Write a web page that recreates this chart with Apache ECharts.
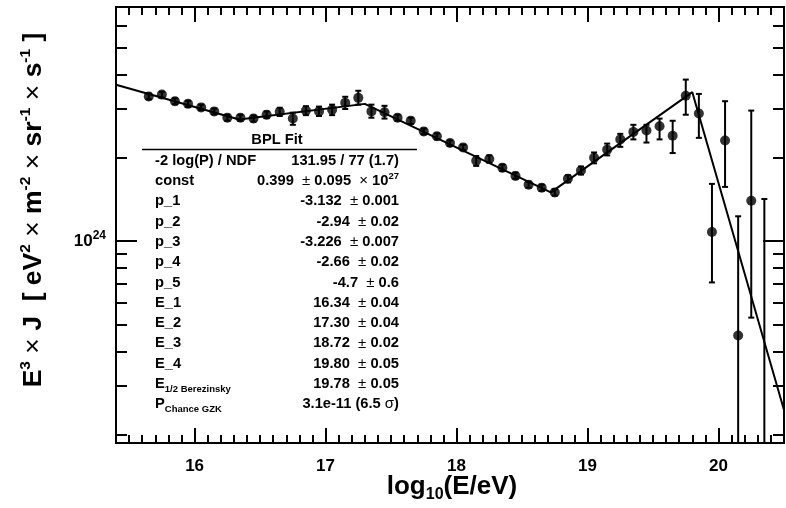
<!DOCTYPE html>
<html>
<head>
<meta charset="utf-8">
<script src="https://cdn.jsdelivr.net/npm/echarts@6/dist/echarts.min.js"></script>
<style>
  html, body { margin: 0; padding: 0; background: #fff; }
  #chart { width: 786px; height: 508px; }
</style>
</head>
<body>
<div id="chart"></div>
<script>
// log10(E/eV) bin centres
const energies = [
  15.65, 15.75, 15.85, 15.95, 16.05, 16.15, 16.25, 16.35, 16.45, 16.55,
  16.65, 16.75, 16.85, 16.95, 17.05, 17.15, 17.25, 17.35, 17.45, 17.55,
  17.65, 17.75, 17.85, 17.95, 18.05, 18.15, 18.25, 18.35, 18.45, 18.55,
  18.65, 18.75, 18.85, 18.95, 19.05, 19.15, 19.25, 19.35, 19.45, 19.55,
  19.65, 19.75, 19.85, 19.95, 20.05, 20.15, 20.25, 20.35
];
// E^3 x J, in units of 1e24
const flux = [
  3.33, 3.38, 3.20, 3.13, 3.04, 2.94, 2.79, 2.79, 2.77, 2.86,
  2.93, 2.77, 2.96, 2.94, 2.98, 3.16, 3.29, 2.94, 2.92, 2.79,
  2.72, 2.49, 2.39, 2.26, 2.18, 1.95, 1.98, 1.84, 1.72, 1.60,
  1.56, 1.50, 1.68, 1.80, 2.00, 2.14, 2.33, 2.48, 2.51, 2.60,
  2.40, 3.35, 2.89, 1.08, 2.31, 0.457, 1.40, 0.15
];
const errLow = [
  3.25, 3.30, 3.12, 3.05, 2.97, 2.87, 2.72, 2.72, 2.70, 2.78,
  2.83, 2.63, 2.85, 2.83, 2.85, 3.00, 3.11, 2.79, 2.77, 2.72,
  2.65, 2.43, 2.33, 2.21, 2.13, 1.87, 1.92, 1.79, 1.68, 1.56,
  1.52, 1.46, 1.63, 1.74, 1.91, 2.04, 2.19, 2.33, 2.27, 2.33,
  2.08, 2.86, 2.36, 0.71, 1.57, 0.01, 0.53, 0.01
];
const errHigh = [
  3.41, 3.46, 3.28, 3.21, 3.11, 3.01, 2.86, 2.86, 2.84, 2.94,
  3.03, 2.91, 3.07, 3.06, 3.11, 3.32, 3.49, 3.11, 3.08, 2.86,
  2.79, 2.55, 2.45, 2.31, 2.23, 2.03, 2.04, 1.89, 1.77, 1.64,
  1.60, 1.54, 1.73, 1.86, 2.09, 2.25, 2.44, 2.63, 2.63, 2.77,
  2.72, 3.83, 3.40, 1.61, 3.20, 1.23, 2.96, 1.42
];
// broken power law fit, break points (log10 E, E^3 J / 1e24)
const fitX = [15.4, 16.34, 17.30, 18.72, 19.80, 20.5];
const fitY = [3.67, 2.75, 3.13, 1.50, 3.45, 0.246];

const xMajorTicks = [16, 17, 18, 19, 20];
const yMajorTicks = [1e24];
const yMinorTicks = [2e23, 3e23, 4e23, 5e23, 6e23, 7e23, 8e23, 9e23, 2e24, 3e24, 4e24, 5e24, 6e24, 7e24];

const statNames = [
  '-2 log(P) / NDF', 'const', 'p_1', 'p_2', 'p_3', 'p_4', 'p_5',
  'E_1', 'E_2', 'E_3', 'E_4',
  '{m|E}{sub|1/2 Berezinsky}', '{m|P}{sub|Chance GZK}'
];
const statValues = [
  '131.95 / 77 (1.7)',
  '0.399  {s|±} 0.095  {s|×} 10{sup|27}',
  '-3.132  {s|±} 0.001',
  '-2.94  {s|±} 0.02',
  '-3.226  {s|±} 0.007',
  '-2.66  {s|±} 0.02',
  '-4.7  {s|±} 0.6',
  '16.34  {s|±} 0.04',
  '17.30  {s|±} 0.04',
  '18.72  {s|±} 0.02',
  '19.80  {s|±} 0.05',
  '19.78  {s|±} 0.05',
  '3.1e-11 (6.5 {s|σ})'
];

const SCALE = 1e24;
const X_MIN = 15.4, X_MAX = 20.5;
const Y_MIN = 1.87e23, Y_MAX = 7.0e24;
const FONT = '"Liberation Sans", Arial, Helvetica, sans-serif';

// minor ticks every 0.1 in log10 E
const xMinorTicks = [];
for (let i = 0; i <= 51; i++) xMinorTicks.push(Math.round((X_MIN + i * 0.1) * 10) / 10);

const chart = echarts.init(document.getElementById('chart'));

const tickLine = { color: '#000', width: 2 };
function xAxisDef(pos, ticks, len, labels) {
  return {
    type: 'value', position: pos, min: X_MIN, max: X_MAX,
    splitLine: { show: false }, axisLine: { show: false },
    axisTick: { inside: true, length: len, customValues: ticks, lineStyle: tickLine },
    axisLabel: labels ? {
      customValues: ticks, color: '#000', fontSize: 17, fontWeight: 'bold',
      fontFamily: FONT, margin: 15
    } : { show: false }
  };
}
function yAxisDef(pos, ticks, len, labels) {
  return {
    type: 'log', logBase: 10, position: pos, min: Y_MIN, max: Y_MAX,
    splitLine: { show: false }, axisLine: { show: false }, minorTick: { show: false },
    axisTick: { inside: true, length: len, customValues: ticks, lineStyle: tickLine },
    axisLabel: labels ? {
      customValues: ticks, margin: 10,
      formatter: function (v) {
        return '{b|10}{e|' + Math.round(Math.log10(v)) + '}';
      },
      rich: {
        b: { fontSize: 17, fontWeight: 'bold', fontFamily: FONT, color: '#000', lineHeight: 24 },
        e: { fontSize: 12, fontWeight: 'bold', fontFamily: FONT, color: '#000', verticalAlign: 'top', lineHeight: 13 }
      }
    } : { show: false }
  };
}

const rowY0 = 160.7, rowStep = 20.3;
const graphics = [
  {
    type: 'text', x: 277, y: 140,
    style: { text: 'BPL Fit', fill: '#000', fontSize: 14.7, fontWeight: 'bold', fontFamily: FONT, align: 'center', verticalAlign: 'middle' }
  },
  {
    type: 'line', shape: { x1: 142, y1: 149.5, x2: 417, y2: 149.5 },
    style: { stroke: '#000', lineWidth: 1.5 }
  },
  {
    type: 'text', x: 34, y: 210, rotation: Math.PI / 2,
    style: {
      text: '{m|E}{sup|3}{x| × }{m|J  [ eV}{sup|2}{x| × }{m|m}{sup|-2}{x| × }{m|sr}{sup|-1}{x| × }{m|s}{sup|-1}{m| ]}',
      align: 'center', verticalAlign: 'middle',
      rich: {
        m: { fontSize: 26.5, fontWeight: 'bold', fontFamily: FONT, fill: '#000', lineHeight: 32 },
        x: { fontSize: 26.5, fontWeight: 'normal', fontFamily: FONT, fill: '#000', lineHeight: 32 },
        sup: { fontSize: 15.5, fontWeight: 'bold', fontFamily: FONT, fill: '#000', verticalAlign: 'top', lineHeight: 17 }
      }
    }
  },
  {
    type: 'text', x: 452, y: 487,
    style: {
      text: '{m|log}{sub|10}{m|(E/eV)}',
      align: 'center', verticalAlign: 'middle',
      rich: {
        m: { fontSize: 26, fontWeight: 'bold', fontFamily: FONT, fill: '#000', lineHeight: 32 },
        sub: { fontSize: 16, fontWeight: 'bold', fontFamily: FONT, fill: '#000', verticalAlign: 'bottom', lineHeight: 17 }
      }
    }
  }
];
const rowRich = {
  m: { fontSize: 14.7, fontWeight: 'bold', fontFamily: FONT, fill: '#000', lineHeight: 20 },
  sub: { fontSize: 9.5, fontWeight: 'bold', fontFamily: FONT, fill: '#000', verticalAlign: 'bottom', lineHeight: 12 },
  s: { fontSize: 15, fontWeight: 'normal', fontFamily: FONT, fill: '#000', lineHeight: 20 },
  sup: { fontSize: 9.5, fontWeight: 'bold', fontFamily: FONT, fill: '#000', verticalAlign: 'top', lineHeight: 12 }
};
statNames.forEach(function (name, i) {
  const y = rowY0 + i * rowStep;
  graphics.push({
    type: 'text', x: 155, y: y,
    style: { text: name, fill: '#000', fontSize: 14.7, fontWeight: 'bold', fontFamily: FONT, align: 'left', verticalAlign: 'middle', lineHeight: 20, rich: rowRich }
  });
  graphics.push({
    type: 'text', x: 399, y: y,
    style: { text: statValues[i], fill: '#000', fontSize: 14.7, fontWeight: 'bold', fontFamily: FONT, align: 'right', verticalAlign: 'middle', lineHeight: 20, rich: rowRich }
  });
});

const option = {
  animation: false,
  backgroundColor: '#fff',
  grid: {
    left: 116, right: 2, top: 7, bottom: 65,
    show: true, borderColor: '#000', borderWidth: 2,
    containLabel: false, outerBoundsMode: 'none'
  },
  xAxis: [
    xAxisDef('bottom', xMajorTicks, 15, true),
    xAxisDef('bottom', xMinorTicks, 8, false),
    xAxisDef('top', xMajorTicks, 15, false),
    xAxisDef('top', xMinorTicks, 8, false)
  ],
  yAxis: [
    yAxisDef('left', yMajorTicks, 21, true),
    yAxisDef('left', yMinorTicks, 11, false),
    yAxisDef('right', yMajorTicks, 21, false),
    yAxisDef('right', yMinorTicks, 11, false)
  ],
  graphic: graphics,
  series: [
    {
      name: 'fit', type: 'line', xAxisIndex: 0, yAxisIndex: 0,
      data: fitX.map(function (x, i) { return [x, fitY[i] * SCALE]; }),
      symbol: 'none', clip: true, z: 2,
      lineStyle: { color: '#000', width: 2 }
    },
    {
      name: 'errors', type: 'custom', xAxisIndex: 0, yAxisIndex: 0, clip: true, z: 3,
      data: energies.map(function (x, i) { return [x, errLow[i] * SCALE, errHigh[i] * SCALE]; }),
      encode: { x: 0, y: [1, 2] },
      renderItem: function (params, api) {
        const lo = api.coord([api.value(0), api.value(1)]);
        const hi = api.coord([api.value(0), api.value(2)]);
        const cap = 3;
        const st = { stroke: '#000', lineWidth: 2 };
        return {
          type: 'group',
          children: [
            { type: 'line', shape: { x1: lo[0], y1: lo[1], x2: hi[0], y2: hi[1] }, style: st },
            { type: 'line', shape: { x1: lo[0] - cap, y1: lo[1], x2: lo[0] + cap, y2: lo[1] }, style: st },
            { type: 'line', shape: { x1: hi[0] - cap, y1: hi[1], x2: hi[0] + cap, y2: hi[1] }, style: st }
          ]
        };
      }
    },
    {
      name: 'data', type: 'scatter', xAxisIndex: 0, yAxisIndex: 0, z: 4,
      data: energies.map(function (x, i) { return [x, flux[i] * SCALE]; }),
      symbol: 'circle', symbolSize: 10, clip: true,
      itemStyle: { color: '#000' }
    }
  ]
};
chart.setOption(option);
</script>
</body>
</html>
